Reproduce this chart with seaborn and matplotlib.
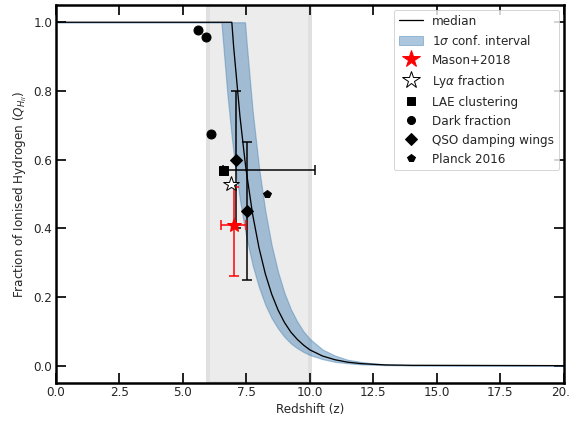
import numpy as np
import pandas as pd
import matplotlib
matplotlib.use("Agg")
import matplotlib.pyplot as plt
from matplotlib.lines import Line2D
from matplotlib.patches import Patch
import seaborn as sns

# model curves
z_grid = [0.0, 6.52, 6.75, 6.93, 7.0, 7.25, 7.45, 7.5, 7.75, 8.0, 8.25, 8.5, 8.75,
          9.0, 9.25, 9.5, 9.75, 10.0, 10.5, 11.0, 11.5, 12.0, 12.5, 13.0, 14.0, 20.0]
q_median = [1.0, 1.0, 1.0, 1.0, 0.93, 0.726, 0.595, 0.566, 0.44, 0.343, 0.267, 0.208, 0.162,
            0.126, 0.098, 0.077, 0.06, 0.046, 0.028, 0.017, 0.01, 0.006, 0.004, 0.002, 0.001, 0.0]
q_lower = [1.0, 1.0, 0.795, 0.664, 0.619, 0.482, 0.395, 0.375, 0.292, 0.228, 0.177, 0.138, 0.108,
           0.084, 0.065, 0.051, 0.04, 0.031, 0.019, 0.011, 0.007, 0.004, 0.0025, 0.0015, 0.0006, 0.0]
q_upper = [1.0, 1.0, 1.0, 1.0, 1.0, 1.0, 1.0, 0.951, 0.741, 0.577, 0.449, 0.35, 0.273,
           0.212, 0.165, 0.129, 0.1, 0.078, 0.047, 0.029, 0.017, 0.011, 0.0064, 0.0039, 0.0014, 0.0]

# observations
mason_z, mason_q = [7.0], [0.41]
mason_qerr = [[0.15], [0.11]]
mason_zerr = [[0.5], [0.5]]

lya_z, lya_q = [6.9], [0.53]

lae_z, lae_q = [6.6], [0.57]
lae_zerr = [[0.0], [3.6]]

dark_z = [5.58, 5.91, 6.1]
dark_q = [0.976, 0.957, 0.674]

qso_z = [7.09, 7.51]
qso_q = [0.60, 0.45]
qso_qerr = [0.2, 0.2]

planck_z, planck_q = [8.3], [0.5]

sns.set_style("ticks")
plt.rcParams["font.family"] = ["DejaVu Sans"]
plt.rcParams["font.size"] = 12

fig, ax = plt.subplots(figsize=(569 / 72, 423 / 72), dpi=72)
fig.subplots_adjust(left=0.098, right=0.991, top=0.988, bottom=0.095)

ax.axvspan(6, 10, facecolor="0.925", edgecolor="0.88", lw=4, zorder=0)

curves = pd.DataFrame({"z": z_grid, "median": q_median, "lo": q_lower, "hi": q_upper})
ax.fill_between(curves["z"], curves["lo"], curves["hi"], facecolor="steelblue",
                edgecolor="steelblue", alpha=0.45, lw=1.2, zorder=2)
sns.lineplot(data=curves, x="z", y="median", color="black", lw=1.3, ax=ax,
             legend=False, zorder=3)

ax.errorbar(mason_z, mason_q, yerr=mason_qerr, xerr=mason_zerr, fmt="*", color="red",
            ms=15, capsize=5, elinewidth=1.5, capthick=1.5, zorder=5)
ax.plot(lya_z, lya_q, "*", mfc="white", mec="black", ms=16, mew=1.0, ls="none", zorder=6)
ax.errorbar(lae_z, lae_q, xerr=lae_zerr, fmt="s", color="black", ms=9,
            capsize=5, elinewidth=1.5, capthick=1.5, zorder=4)
ax.plot(dark_z, dark_q, "o", color="black", ms=9, ls="none", zorder=4)
ax.errorbar(qso_z, qso_q, yerr=qso_qerr, fmt="D", color="black", ms=8,
            capsize=5, elinewidth=1.5, capthick=1.5, zorder=4)
ax.plot(planck_z, planck_q, "p", color="black", ms=8, ls="none", zorder=4)

ax.set_xlim(0, 20)
ax.set_ylim(-0.05, 1.05)
ax.set_xticks(np.arange(0, 20.1, 2.5))
ax.set_xlabel("Redshift (z)", fontsize=12)
ax.set_ylabel(r"Fraction of Ionised Hydrogen ($Q_{H_{II}}$)", fontsize=12)

ax.tick_params(direction="in", length=10, width=2, top=True, right=True, labelsize=12)
for s in ax.spines.values():
    s.set_linewidth(2.5)
    s.set_color("black")

handles = [
    Line2D([], [], color="black", lw=1.3),
    Patch(facecolor="steelblue", edgecolor="steelblue", alpha=0.45),
    Line2D([], [], marker="*", color="red", ms=18, ls="none"),
    Line2D([], [], marker="*", mfc="white", mec="black", ms=18, mew=1.0, ls="none"),
    Line2D([], [], marker="s", color="black", ms=8, ls="none"),
    Line2D([], [], marker="o", color="black", ms=8, ls="none"),
    Line2D([], [], marker="D", color="black", ms=8, ls="none"),
    Line2D([], [], marker="p", color="black", ms=8, ls="none"),
]
labels = ["median", r"1$\sigma$ conf. interval", "Mason+2018", r"Ly$\alpha$ fraction",
          "LAE clustering", "Dark fraction", "QSO damping wings", "Planck 2016"]
ax.legend(handles, labels, loc="upper right", fontsize=12, frameon=True,
          labelspacing=0.5, borderaxespad=0.4)

fig.savefig("out.png", dpi=72)
